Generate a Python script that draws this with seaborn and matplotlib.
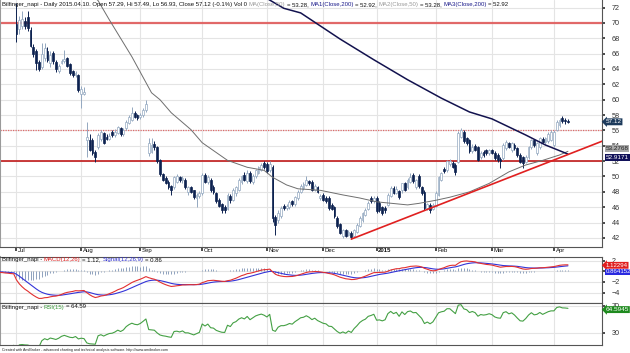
import numpy as np
import pandas as pd
import matplotlib
matplotlib.use("Agg")
import matplotlib.pyplot as plt
import seaborn as sns

# ---------------- data ----------------
holidays = ["2014-12-24", "2014-12-25", "2014-12-26", "2014-12-31",
            "2015-01-01", "2015-04-03", "2015-04-06"]

# daily bars 2014-06-16 .. 2015-04-10 (June bars sit above the visible range)
opens = [84.4, 84.5, 84.0, 84.2, 83.8, 83.8, 83.4, 83.4, 83.0, 83.0, 82.6,
         # Jul
         69.9, 69.2, 69.6, 70.3, 70.8, 69.1, 66.9, 66.3, 64.9, 64.3, 65.4, 66.4, 64.8, 66.1, 64.9, 63.8,
         64.8, 65.0, 65.4, 64.6, 63.7, 63.2, 63.2,
         # Aug
         60.8, 60.8, 54.8, 54.8, 54.8, 53.2, 53.9, 54.9, 55.6, 55.2, 54.9, 55.8, 55.4, 55.7, 56.3, 55.5,
         56.3, 57.0, 57.4, 58.3, 58.0,
         # Sep
         57.7, 58.0, 58.6, 53.0, 53.2, 54.2, 53.8, 52.2, 50.3, 49.8, 49.3, 48.7, 48.6, 49.3, 49.9, 49.5,
         49.6, 48.0, 48.6, 48.2, 47.2, 47.5,
         # Oct
         47.8, 50.2, 49.3, 49.6, 48.6, 47.8, 46.9, 46.4, 46.0, 45.8, 47.4, 47.0, 47.8, 48.3, 49.3, 50.2,
         49.4, 50.5, 49.3, 50.0, 50.5, 50.9, 51.8,
         # Nov
         51.6, 50.8, 51.3, 44.7, 44.3, 44.8, 46.2, 45.9, 46.0, 46.8, 46.4, 47.2, 48.0, 48.5, 48.9, 49.4,
         49.3, 48.3, 48.6, 47.2,
         # Dec
         47.6, 47.2, 47.2, 46.3, 46.0, 44.6, 43.8, 42.2, 43.0, 42.4, 42.7, 42.3, 42.8, 43.6, 44.3, 45.0,
         45.8, 47.2, 46.8,
         # Jan
         47.2, 46.6, 46.0, 45.9, 46.3, 47.5, 48.5, 47.9, 48.1, 48.2, 49.1, 48.6, 49.3, 50.2, 48.6, 50.0,
         48.6, 48.0, 45.9, 46.3, 45.8,
         # Feb
         46.2, 47.6, 49.6, 51.0, 50.8, 51.6, 51.8, 51.5, 51.9, 55.2, 55.8, 55.0, 54.7, 53.3, 54.0, 53.8,
         52.5, 53.2, 53.4, 53.0,
         # Mar
         53.4, 53.1, 52.8, 52.3, 52.4, 53.7, 54.3, 53.4, 54.1, 53.7, 52.8, 52.5, 51.9, 52.5, 53.8, 54.7,
         53.0, 53.8, 54.9, 54.5, 54.6, 54.8,
         # Apr
         54.1, 56.1, 56.7, 57.6, 57.4, 57.29]
highs = [84.9, 84.7, 84.5, 84.3, 84.1, 83.9, 83.7, 83.5, 83.3, 83.1, 82.9,
         72.6, 70.9, 71.5, 70.8, 71.5, 69.4, 67.2, 66.6, 65.2, 67.4, 67.4, 66.8, 66.4, 66.4, 65.2, 64.7,
         65.3, 66.5, 65.6, 64.8, 63.9, 63.8, 63.4,
         61.8, 61.6, 57.1, 55.5, 55.0, 53.4, 55.6, 56.0, 55.8, 55.5, 55.6, 56.0, 56.2, 56.6, 56.5, 56.3,
         57.3, 58.0, 59.0, 58.5, 58.2,
         58.3, 58.9, 60.0, 55.0, 55.0, 54.6, 54.0, 52.3, 50.5, 50.0, 49.5, 48.9, 50.1, 50.3, 50.1, 50.0,
         49.8, 48.8, 48.8, 48.3, 47.8, 48.1,
         50.5, 50.4, 50.2, 49.8, 48.9, 48.0, 47.2, 46.6, 46.3, 47.9, 47.7, 48.5, 48.8, 49.8, 50.2, 50.6,
         50.9, 50.7, 50.3, 51.0, 51.4, 51.8, 52.0,
         51.9, 52.0, 51.5, 45.0, 45.6, 46.1, 46.4, 46.4, 47.0, 47.0, 47.5, 48.2, 49.0, 49.3, 50.0, 49.6,
         49.5, 49.0, 48.8, 47.7,
         47.8, 47.4, 47.4, 46.6, 46.2, 44.8, 44.0, 43.2, 43.2, 43.0, 42.9, 43.2, 43.9, 44.8, 45.4, 45.9,
         46.8, 47.4, 47.4,
         47.4, 46.8, 46.2, 46.1, 47.9, 48.7, 48.8, 48.7, 48.3, 49.2, 49.3, 49.8, 50.4, 50.5, 49.7, 50.3,
         48.8, 48.2, 46.6, 46.5, 46.5,
         48.1, 50.1, 50.6, 51.2, 52.2, 52.3, 52.0, 51.7, 55.9, 56.3, 56.0, 55.2, 54.9, 54.2, 54.2, 54.0,
         53.3, 53.4, 53.6, 53.6,
         53.6, 53.3, 53.0, 52.5, 54.3, 54.7, 54.5, 54.5, 54.3, 53.9, 53.0, 52.7, 52.8, 54.0, 54.9, 54.9,
         54.5, 55.2, 55.1, 55.2, 55.8, 56.0,
         56.0, 57.3, 57.6, 57.9, 57.6, 57.49]
lows = [84.0, 83.8, 83.9, 83.5, 83.6, 83.1, 83.2, 82.7, 82.8, 82.3, 82.4,
        67.5, 68.6, 69.2, 69.2, 69.0, 66.8, 65.6, 63.9, 63.8, 64.0, 65.0, 64.9, 64.2, 64.7, 63.6, 63.5,
        64.6, 64.8, 64.2, 63.2, 63.0, 63.0, 61.0,
        58.9, 60.6, 52.5, 53.3, 52.8, 51.9, 53.6, 54.6, 54.2, 54.7, 54.7, 55.1, 55.2, 55.5, 55.3, 55.3,
        56.1, 56.8, 57.2, 57.6, 57.4,
        57.5, 57.8, 58.4, 52.7, 53.0, 53.5, 51.8, 50.1, 49.4, 49.0, 48.4, 47.6, 48.4, 49.1, 49.3, 49.2,
        48.4, 47.6, 47.8, 47.1, 46.0, 47.2,
        47.6, 49.1, 49.0, 48.0, 47.7, 46.6, 46.0, 45.3, 45.3, 45.6, 46.6, 46.8, 47.5, 48.1, 49.0, 49.4,
        49.2, 49.2, 49.0, 49.8, 50.3, 50.7, 51.0,
        50.5, 50.6, 44.1, 42.4, 44.0, 44.6, 45.7, 45.7, 45.8, 46.2, 46.2, 47.0, 47.8, 48.3, 48.7, 48.9,
        48.1, 48.1, 47.8, 47.0,
        46.8, 46.6, 45.7, 45.6, 44.6, 43.3, 42.5, 42.0, 42.1, 42.2, 41.8, 42.1, 42.6, 43.4, 44.1, 44.8,
        45.6, 46.5, 46.6,
        45.3, 45.4, 45.0, 45.3, 46.1, 47.3, 47.7, 47.7, 47.1, 47.9, 48.1, 48.4, 49.1, 49.2, 48.4, 48.5,
        47.6, 45.7, 45.7, 45.2, 45.6,
        46.0, 47.4, 49.4, 50.4, 50.6, 51.4, 51.1, 50.2, 51.7, 55.0, 54.4, 54.1, 53.1, 53.1, 53.3, 52.0,
        52.3, 52.6, 52.8, 52.8,
        52.9, 52.2, 51.9, 51.1, 52.2, 53.5, 53.7, 53.2, 53.5, 52.6, 51.7, 51.1, 51.7, 52.3, 53.6, 53.9,
        52.8, 53.6, 54.3, 54.2, 54.4, 54.6,
        53.9, 55.9, 56.5, 57.0, 56.9, 56.93]
closes = [84.6, 84.0, 84.3, 83.7, 83.9, 83.3, 83.5, 82.9, 83.1, 82.5, 82.7,
          68.6, 70.4, 70.5, 69.6, 69.3, 67.0, 65.9, 64.8, 64.0, 66.0, 66.7, 65.2, 65.8, 65.0, 64.0, 64.4,
          65.0, 65.3, 64.4, 63.5, 63.2, 63.5, 61.2,
          61.4, 61.0, 55.2, 53.5, 53.0, 52.6, 55.4, 55.8, 54.4, 54.9, 55.3, 55.4, 55.8, 56.4, 55.5, 56.0,
          57.1, 57.8, 58.3, 57.8, 57.6,
          58.0, 58.7, 59.5, 54.3, 54.1, 53.9, 52.0, 50.3, 49.6, 49.2, 48.6, 48.2, 49.9, 50.0, 49.5, 49.8,
          48.6, 48.6, 48.0, 47.3, 47.6, 47.9,
          50.2, 49.3, 49.9, 48.2, 48.0, 46.8, 46.2, 45.7, 45.6, 47.6, 47.0, 48.2, 48.6, 49.5, 50.0, 49.6,
          50.5, 49.4, 50.1, 50.8, 51.2, 51.5, 51.2,
          50.7, 51.6, 44.6, 43.7, 45.3, 45.9, 45.9, 46.2, 46.7, 46.4, 47.3, 48.0, 48.8, 49.0, 49.6, 49.1,
          48.3, 48.8, 48.0, 47.5,
          47.0, 46.8, 45.9, 45.8, 44.8, 43.6, 42.7, 43.0, 42.3, 42.8, 42.1, 43.0, 43.7, 44.6, 45.2, 45.6,
          46.5, 46.8, 47.2,
          45.5, 45.6, 45.3, 45.6, 47.6, 48.5, 47.9, 48.4, 47.3, 49.1, 48.3, 49.6, 49.9, 49.4, 49.5, 48.7,
          47.8, 45.9, 46.4, 45.7, 46.3,
          47.9, 49.9, 50.4, 50.7, 52.0, 52.0, 51.3, 50.6, 55.6, 56.0, 54.6, 54.3, 53.3, 53.9, 53.5, 52.2,
          53.0, 52.8, 53.0, 53.4,
          53.1, 52.4, 52.1, 52.0, 54.1, 54.5, 53.9, 54.3, 53.7, 52.8, 51.9, 51.8, 52.6, 53.8, 54.7, 54.1,
          54.3, 55.0, 54.5, 55.0, 55.5, 55.8,
          55.8, 57.1, 57.4, 57.2, 57.18, 57.12]

ma50_dates = ["2014-08-06", "2014-08-11", "2014-08-15", "2014-08-27", "2014-09-05", "2014-09-10",
              "2014-09-16", "2014-09-25", "2014-10-01", "2014-10-14", "2014-10-23", "2014-10-31",
              "2014-11-05", "2014-11-12", "2014-11-18", "2014-11-28", "2014-12-10", "2014-12-18",
              "2015-01-02", "2015-01-19", "2015-01-23", "2015-02-02", "2015-02-09", "2015-02-18",
              "2015-02-27", "2015-03-10", "2015-03-18", "2015-03-26", "2015-04-07", "2015-04-10"]
ma50_vals = [74.0, 72.9, 70.4, 65.6, 60.9, 60.0, 58.3, 56.1, 54.4, 52.1, 51.2, 50.8, 49.9, 48.9,
             48.4, 48.2, 47.6, 47.2, 46.7, 46.3, 46.5, 46.9, 47.3, 48.0, 49.1, 50.6, 51.5, 52.1,
             52.8, 53.28]
ma200_dates = ["2014-10-31", "2014-11-11", "2014-11-19", "2014-11-28", "2014-12-09", "2014-12-30",
               "2015-01-19", "2015-02-04", "2015-02-18", "2015-03-02", "2015-03-18", "2015-03-27",
               "2015-04-10"]
ma200_vals = [73.4, 71.9, 71.3, 69.6, 67.9, 65.2, 62.6, 60.2, 58.4, 57.5, 55.4, 54.1, 52.92]

trend_dates = ["2014-12-15", "2015-04-10"]
trend_vals = [41.85, 52.86]
levels = [70, 56, 52]
month_labels = ["Jul", "Aug", "Sep", "Oct", "Nov", "Dec", "2015", "Feb", "Mar", "Apr"]

# ---------------- frame ----------------
dates = pd.bdate_range("2014-06-16", "2015-04-10", freq="C", holidays=holidays)
df = pd.DataFrame({"open": opens, "high": highs, "low": lows, "close": closes}, index=dates)
n_pre = int((dates < "2014-07-01").sum())
pos = np.arange(len(df)) - n_pre
pos_of = pd.Series(pos, index=dates)

close = df["close"]
macd = close.ewm(span=12, adjust=False).mean() - close.ewm(span=26, adjust=False).mean()
signal = macd.ewm(span=9, adjust=False).mean()
hist = macd - signal
delta = close.diff()
gain = delta.clip(lower=0).ewm(alpha=1 / 15, adjust=False).mean()
loss = (-delta.clip(upper=0)).ewm(alpha=1 / 15, adjust=False).mean()
rsi = 100 - 100 / (1 + gain / loss)

vis = df[df.index >= "2014-07-01"]
month_pos = [pos_of[g.index[0]] for _, g in vis.groupby(vis.index.to_period("M"))]

sns.set_theme(style="white")
plt.rcParams["font.family"] = ["Liberation Sans", "DejaVu Sans"]

W, H = 630, 353
fig = plt.figure(figsize=(W / 100, H / 100), dpi=100)
fig.patch.set_facecolor("white")


def add_panel(top, bottom):
    return fig.add_axes([0, 1 - bottom / H, 602 / W, (bottom - top) / H])


ax = add_panel(0, 247)
ax_m = add_panel(257, 303)
ax_r = add_panel(303, 345)
xlim = (-5.86, 208.1)
grid_c = "#e4e4e4"

for a in (ax, ax_m, ax_r):
    a.set_xlim(*xlim)
    a.set_facecolor("white")
    a.set_xticks(month_pos)
    a.set_xticklabels([])
    a.yaxis.tick_right()
    a.tick_params(axis="y", which="both", right=True, length=2, pad=5, labelsize=5.2,
                  colors="#333333", direction="out")
    a.tick_params(axis="x", length=0)
    a.grid(True, color=grid_c, linewidth=0.8)
    a.set_axisbelow(True)
    for s in a.spines.values():
        s.set_color("#555555")
        s.set_linewidth(0.8)
    a.spines["left"].set_color("#9a9a9a")
    a.spines["left"].set_linewidth(1.5)
ax.spines["top"].set_visible(False)
ax.tick_params(axis="x", length=3, direction="out", color="#333333", bottom=True)

# ---------------- price panel ----------------
ax.set_ylim(40.82, 72.98)
ax.set_yticks(np.arange(42, 73, 2))
up = df["close"] >= df["open"]
up_c, dn_c = "#93a8c0", "#0d2250"
ax.vlines(pos, df["low"], df["high"], colors=np.where(up, up_c, dn_c), linewidth=0.7, zorder=3)
body_lo = np.minimum(df["open"], df["close"])
body_h = np.maximum((df["close"] - df["open"]).abs(), 0.06)
ax.bar(pos[up.values], body_h[up.values], bottom=body_lo[up.values], width=0.65,
       color="white", edgecolor=up_c, linewidth=0.5, zorder=4)
ax.bar(pos[~up.values], body_h[~up.values], bottom=body_lo[~up.values], width=0.65,
       color=dn_c, edgecolor=dn_c, linewidth=0.5, zorder=4)

sns.lineplot(x=pos_of[pd.to_datetime(ma50_dates)].values, y=ma50_vals, ax=ax,
             color="#6e6e6e", linewidth=0.7, zorder=5)
sns.lineplot(x=pos_of[pd.to_datetime(ma200_dates)].values, y=ma200_vals, ax=ax,
             color="#12124e", linewidth=1.1, zorder=5)

ax.axhline(levels[0], color="#e05a5a", linewidth=1.6, alpha=0.9, zorder=2)
ax.axhline(levels[1], color="#e06a6a", linewidth=0.9, linestyle=(0, (1, 1)), zorder=2)
ax.axhline(levels[2], color="#c01a1a", linewidth=1.2, zorder=2)

tx = pos_of[pd.to_datetime(trend_dates)].values.astype(float)
slope = (trend_vals[1] - trend_vals[0]) / (tx[1] - tx[0])
ax.plot([tx[0], xlim[1]], [trend_vals[0], trend_vals[0] + slope * (xlim[1] - tx[0])],
        color="#e02020", linewidth=1.2, zorder=6)

for p, lab in zip(month_pos, month_labels):
    ax.text(p + 0.6, -0.006, lab, transform=ax.get_xaxis_transform(), ha="left", va="top",
            fontsize=4.3, color="#111111", fontweight="bold" if lab == "2015" else "normal")

# ---------------- MACD panel ----------------
ax_m.set_ylim(-5.93, 2.67)
ax_m.set_yticks([-4, -2, 0, 2])
ax_m.vlines(pos, 0, hist, colors="#7d93b3", linewidth=0.6, zorder=2)
sns.lineplot(x=pos, y=signal.values, ax=ax_m, color="#3434d8", linewidth=0.8, zorder=3)
sns.lineplot(x=pos, y=macd.values, ax=ax_m, color="#e23030", linewidth=0.8, zorder=4)

# ---------------- RSI panel ----------------
ax_r.set_ylim(11.5, 74.5)
ax_r.set_yticks([30, 70])
sns.lineplot(x=pos, y=rsi.values, ax=ax_r, color="#44a044", linewidth=0.8, zorder=3)

for a in (ax, ax_m, ax_r):
    a.set_xlabel("")
    a.set_ylabel("")
    a.set_xlim(*xlim)


# ---------------- value boxes on the right ----------------
def tag(a, val, text, fc, tc="white", dy=0, arrow=True, size=4.6):
    a.annotate(text, xy=(1, val), xycoords=("axes fraction", "data"), xytext=(2.5, dy),
               textcoords="offset points", ha="left", va="center", fontsize=size, color=tc,
               annotation_clip=False, zorder=10,
               bbox=dict(boxstyle="larrow,pad=0.15" if arrow else "square,pad=0.15", fc=fc, ec="none"))


tag(ax, 57.12, "57.12", "#1d3b5c")
tag(ax, 53.28, "53.2768", "#a8a8a8", tc="#222222", dy=1.7, arrow=False)
tag(ax, 52.92, "52.9171", "#12125a", dy=-2.3, arrow=False)
tag(ax_m, 1.12, "1.12294", "#e02020", size=4.4)
tag(ax_m, 0.86, "0.864152", "#2a2ae0", dy=-3.8, arrow=False, size=4.4)
tag(ax_r, 64.59, "64.5945", "#1e8a1e")

# ---------------- header texts ----------------
renderer = fig.canvas.get_renderer()


def text_w(s, size):
    t = fig.text(0, 0, s, fontsize=size)
    w = t.get_window_extent(renderer).width
    t.remove()
    return w


def rich(x, y, parts, size):
    sp = text_w("x x", size) - text_w("xx", size)
    for s, c in parts:
        core = s.strip()
        if s.startswith(" "):
            x += sp
        t = fig.text(x / W, 1 - y / H, core, color=c, fontsize=size, ha="left", va="center", zorder=20)
        x += t.get_window_extent(renderer).width
        if s.endswith(" "):
            x += sp


blk, gry, nav = "#111111", "#9a9a9a", "#1a1a8a"
rich(2, 4.5, [("Bilfinger_napi - Daily 2015.04.10. Open 57.29, Hi 57.49, Lo 56.93, Close 57.12 (-0.1%) Vol 0 ", blk),
              ("MA(Close,50)", gry), (" = 53.28, ", blk), ("MA1(Close,200)", nav), (" = 52.92, ", blk),
              ("MA2(Close,50)", gry), (" = 53.28, ", blk), ("MA3(Close,200)", nav), (" = 52.92", blk)], 4.35)
rich(2, 260, [("Bilfinger_napi - ", blk), ("MACD(12,26)", "#e02020"), (" = 1.12, ", blk),
              ("Signal(12,26,9)", "#3030d0"), (" = 0.86", blk)], 4.3)
rich(2, 307, [("Bilfinger_napi - ", blk), ("RSI(15)", "#3a9a3a"), (" = 64.59", blk)], 4.3)
fig.text(2 / W, 1 - 349.5 / H,
         "Created with AmiBroker - advanced charting and technical analysis software. http://www.amibroker.com",
         fontsize=2.6, color="#222222", ha="left", va="center")

fig.savefig("out.png", dpi=100, facecolor="white")
